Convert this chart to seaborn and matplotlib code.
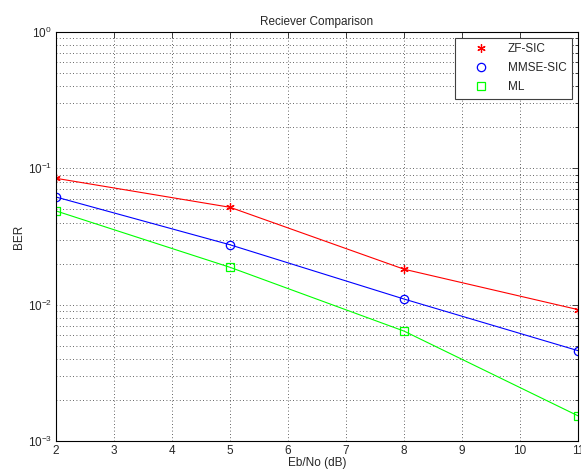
import pandas as pd
import numpy as np
import matplotlib
matplotlib.use("Agg")
import matplotlib.pyplot as plt
import seaborn as sns
from matplotlib.lines import Line2D
from matplotlib.ticker import LogLocator, FixedLocator

# data
snr_db = [2, 5, 8, 11]
ber_zf_sic = [0.0845, 0.0518, 0.0182, 0.0092]
ber_mmse_sic = [0.0616, 0.0275, 0.0110, 0.0046]
ber_ml = [0.0487, 0.0188, 0.0064, 0.00153]

series = [("ZF-SIC", ber_zf_sic, "#ff0000", (6, 2, 0)),
          ("MMSE-SIC", ber_mmse_sic, "#0000ff", "o"),
          ("ML", ber_ml, "#00ff00", "s")]

sns.set_style("white")
plt.rcParams["font.family"] = ["Liberation Sans", "DejaVu Sans"]
plt.rcParams["mathtext.fontset"] = "custom"
plt.rcParams["mathtext.rm"] = "Liberation Sans"
plt.rcParams["mathtext.it"] = "Liberation Sans"

fs = 8.5
fig = plt.figure(figsize=(5.81, 4.73), dpi=100)
ax = fig.add_axes([56 / 581, 32 / 473, 522 / 581, 409 / 473])

handles = []
for name, vals, color, mk in series:
    df = pd.DataFrame({"snr": snr_db, "ber": vals})
    sns.lineplot(data=df, x="snr", y="ber", ax=ax, color=color, lw=0.8,
                 marker=mk, markersize=6,
                 markerfacecolor="none",
                 markeredgecolor=color, markeredgewidth=0.9, legend=False)
    handles.append(Line2D([], [], ls="none", marker=mk, color=color,
                          markerfacecolor="none", markeredgecolor=color,
                          markersize=6, markeredgewidth=0.9, label=name))

ax.set_yscale("log")
ax.set_xlim(2, 11)
ax.set_ylim(1e-3, 1)
ax.xaxis.set_major_locator(FixedLocator(range(2, 12)))
ax.yaxis.set_major_locator(LogLocator(base=10, numticks=10))
ax.yaxis.set_minor_locator(LogLocator(base=10, subs=np.arange(2, 10), numticks=10))
ax.grid(True, which="both", color="#303030", ls=(0, (1, 3)), lw=0.6)
ax.tick_params(which="both", direction="in", top=True, right=True, labelsize=fs,
               length=4, width=0.6, pad=3)
ax.tick_params(which="minor", length=2)
for sp in ax.spines.values():
    sp.set_color("black")
    sp.set_linewidth(0.8)

ax.set_title("Reciever Comparison", fontsize=fs, pad=5)
ax.set_xlabel("Eb/No (dB)", fontsize=fs, labelpad=0)
ax.set_ylabel("BER", fontsize=fs, labelpad=2)

leg = ax.legend(handles=handles, loc="upper right", fontsize=fs, frameon=True,
                fancybox=False, edgecolor="#404040", framealpha=1,
                borderaxespad=0.5, handletextpad=0.6, borderpad=0.45,
                labelspacing=0.6, handlelength=3.4)
leg.get_frame().set_linewidth(0.8)

fig.savefig("out.png", dpi=100)
